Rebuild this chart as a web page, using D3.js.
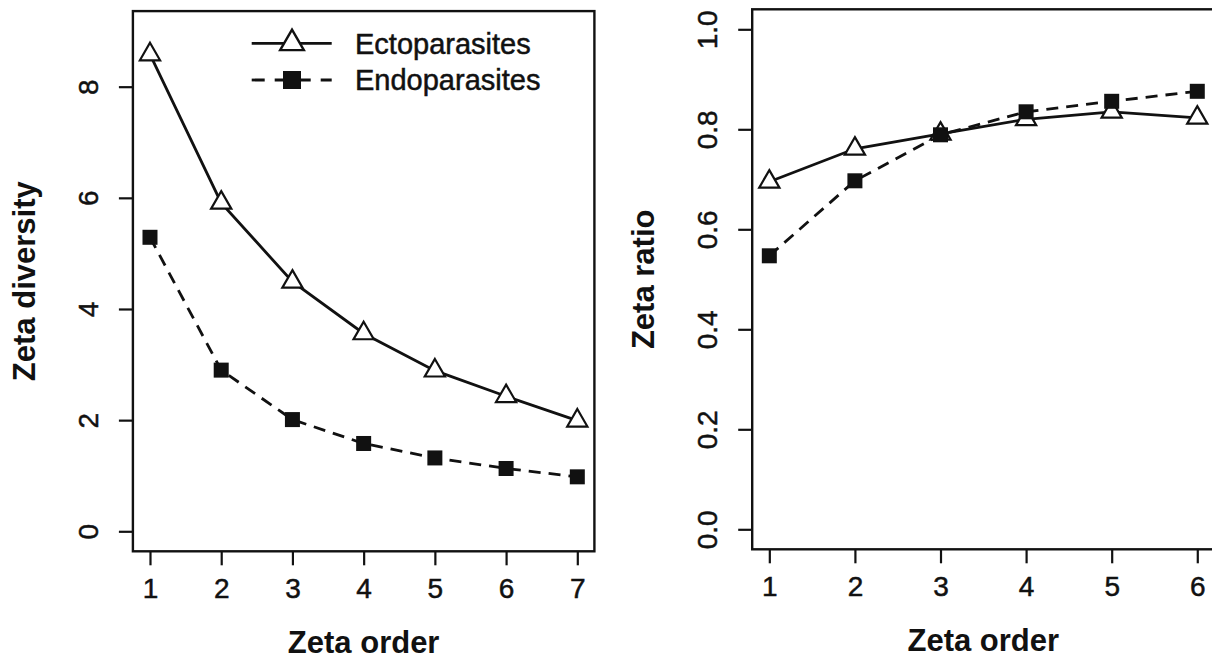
<!DOCTYPE html>
<html>
<head>
<meta charset="utf-8">
<script src="https://cdn.jsdelivr.net/npm/d3@7"></script>
<style>
  html, body { margin: 0; padding: 0; background: #fff; }
  svg { display: block; }
  text { font-family: "Liberation Sans", Arial, sans-serif; fill: #111; }
  .lbl { stroke: #111; stroke-width: 0.5px; }
</style>
</head>
<body>
<svg id="chart" width="1212" height="659"></svg>
<script>
// Zeta order (x) and the two parasite groups
const zetaOrders = [1, 2, 3, 4, 5, 6, 7];
const ratioOrders = [1, 2, 3, 4, 5, 6];
const seriesNames = ["Ectoparasites", "Endoparasites"];

// Zeta diversity per order
const ectoDiversity = [8.58, 5.91, 4.49, 3.56, 2.89, 2.43, 1.99];
const endoDiversity = [5.29, 2.90, 2.01, 1.58, 1.32, 1.13, 0.98];

// Zeta ratio per order
const ectoRatio = [0.695, 0.761, 0.791, 0.820, 0.835, 0.823];
const endoRatio = [0.547, 0.697, 0.789, 0.835, 0.856, 0.876];

// Tick labels
const diversityTicks = [0, 2, 4, 6, 8];
const ratioTicks = [0, 0.2, 0.4, 0.6, 0.8, 1.0];
const leftXTicks = [1, 2, 3, 4, 5, 6, 7];
const rightXTicks = [1, 2, 3, 4, 5, 6];

const svg = d3.select("#chart");
const ink = "#111";

// R-style axis limits: data range padded by 4% on each side
function padded(lo, hi) {
  const d = (hi - lo) * 0.04;
  return [lo - d, hi + d];
}

// Triangle with its centroid on the point (like R's pch 2)
function trianglePath(r) {
  const top = 1.5551 * r, half = 1.3468 * r, low = 0.7776 * r;
  return `M0,${-top}L${half},${low}L${-half},${low}Z`;
}

function drawPanel(cfg) {
  const x = d3.scaleLinear().domain(padded(cfg.xlim[0], cfg.xlim[1])).range([cfg.left, cfg.right]);
  const y = d3.scaleLinear().domain(padded(cfg.ylim[0], cfg.ylim[1])).range([cfg.bottom, cfg.top]);
  const g = svg.append("g");

  // x axis
  const xAxis = d3.axisBottom(x).tickValues(cfg.xTicks).tickSize(14).tickPadding(0).tickFormat(d3.format("d"));
  const gx = g.append("g").attr("transform", `translate(0,${cfg.bottom})`).call(xAxis);
  gx.select(".domain").remove();
  gx.selectAll(".tick line").attr("stroke", ink).attr("stroke-width", 2.2);
  gx.selectAll(".tick text").attr("dy", null).attr("y", 47).attr("class", "lbl")
    .style("font-size", "28px").attr("fill", ink);

  // y axis, labels turned like R's las = 0
  const yAxis = d3.axisLeft(y).tickValues(cfg.yTicks).tickSize(14).tickPadding(0).tickFormat(cfg.yFormat);
  const gy = g.append("g").attr("transform", `translate(${cfg.left},0)`).call(yAxis);
  gy.select(".domain").remove();
  gy.selectAll(".tick line").attr("stroke", ink).attr("stroke-width", 2.2);
  gy.selectAll(".tick text")
    .attr("x", null).attr("dy", null).attr("class", "lbl")
    .attr("text-anchor", "middle")
    .attr("transform", "translate(-35,0) rotate(-90)")
    .style("font-size", "28px").attr("fill", ink);

  // plot box
  g.append("rect")
    .attr("x", cfg.left).attr("y", cfg.top)
    .attr("width", cfg.right - cfg.left).attr("height", cfg.bottom - cfg.top)
    .attr("fill", "none").attr("stroke", ink).attr("stroke-width", 2.4);

  // axis titles
  g.append("text")
    .attr("x", (cfg.left + cfg.right) / 2).attr("y", cfg.bottom + 102)
    .attr("text-anchor", "middle")
    .style("font-size", "31px").style("font-weight", "bold")
    .text(cfg.xTitle);
  g.append("text")
    .attr("transform", `translate(${cfg.left - 98},${(cfg.top + cfg.bottom) / 2}) rotate(-90)`)
    .attr("text-anchor", "middle")
    .style("font-size", "31px").style("font-weight", "bold")
    .text(cfg.yTitle);

  const line = d3.line().x(d => x(d[0])).y(d => y(d[1]));
  const ecto = cfg.xs.map((v, i) => [v, cfg.ecto[i]]);
  const endo = cfg.xs.map((v, i) => [v, cfg.endo[i]]);

  // series lines
  g.append("path").datum(ecto).attr("d", line)
    .attr("fill", "none").attr("stroke", ink).attr("stroke-width", 2.8);
  g.append("path").datum(endo).attr("d", line)
    .attr("fill", "none").attr("stroke", ink).attr("stroke-width", 2.8)
    .attr("stroke-dasharray", "12,8");

  // open triangles for ectoparasites
  g.selectAll(".tri").data(ecto).join("path")
    .attr("class", "tri")
    .attr("transform", d => `translate(${x(d[0])},${y(d[1])})`)
    .attr("d", trianglePath(7.5))
    .attr("fill", "#fff").attr("stroke", ink).attr("stroke-width", 2.2);

  // filled squares for endoparasites
  const s = 15;
  g.selectAll(".sq").data(endo).join("rect")
    .attr("class", "sq")
    .attr("x", d => x(d[0]) - s / 2).attr("y", d => y(d[1]) - s / 2)
    .attr("width", s).attr("height", s)
    .attr("fill", ink);

  return g;
}

const left = drawPanel({
  left: 132.9, right: 594.4, top: 11.1, bottom: 551.3,
  xlim: [1, 7], ylim: [0, 9],
  xTicks: leftXTicks, yTicks: diversityTicks, yFormat: d3.format("d"),
  xs: zetaOrders, ecto: ectoDiversity, endo: endoDiversity,
  xTitle: "Zeta order", yTitle: "Zeta diversity"
});

drawPanel({
  left: 752.2, right: 1214.4, top: 9.3, bottom: 549.3,
  xlim: [1, 6], ylim: [0, 1],
  xTicks: rightXTicks, yTicks: ratioTicks, yFormat: d3.format(".1f"),
  xs: ratioOrders, ecto: ectoRatio, endo: endoRatio,
  xTitle: "Zeta order", yTitle: "Zeta ratio"
});

// legend in the first panel, no frame
const legend = left.append("g");
const rows = [
  { name: seriesNames[0], y: 43.3, dash: null },
  { name: seriesNames[1], y: 80, dash: "13,10" }
];
rows.forEach((r, i) => {
  legend.append("line")
    .attr("x1", 251.7).attr("x2", 331.7).attr("y1", r.y).attr("y2", r.y)
    .attr("stroke", ink).attr("stroke-width", 2.8)
    .attr("stroke-dasharray", r.dash);
  if (i === 0) {
    legend.append("path")
      .attr("transform", `translate(292,${r.y})`)
      .attr("d", trianglePath(8.8))
      .attr("fill", "#fff").attr("stroke", ink).attr("stroke-width", 2.4);
  } else {
    legend.append("rect")
      .attr("x", 292 - 9).attr("y", r.y - 9).attr("width", 18).attr("height", 18)
      .attr("fill", ink);
  }
  legend.append("text")
    .attr("x", 355).attr("y", r.y).attr("dy", "0.36em")
    .attr("class", "lbl")
    .style("font-size", "29px")
    .text(r.name);
});
</script>
</body>
</html>
